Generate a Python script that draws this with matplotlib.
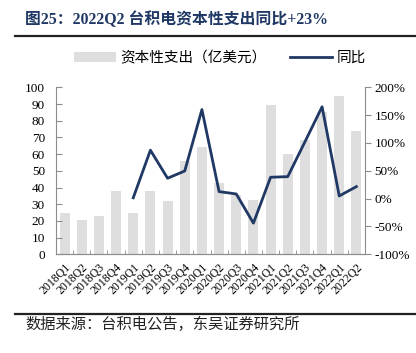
import matplotlib
matplotlib.use("Agg")
import matplotlib.pyplot as plt
import numpy as np
from matplotlib.lines import Line2D
from matplotlib.patches import Patch

quarters = ["2018Q1", "2018Q2", "2018Q3", "2018Q4", "2019Q1", "2019Q2", "2019Q3", "2019Q4",
            "2020Q1", "2020Q2", "2020Q3", "2020Q4", "2021Q1", "2021Q2", "2021Q3", "2021Q4",
            "2022Q1", "2022Q2"]
capex = [24.7, 20.4, 23.2, 37.9, 25.0, 38.0, 31.7, 56.1,
         64.5, 42.7, 35.3, 32.3, 89.2, 60.3, 68.2, 85.0, 94.6, 74.0]
yoy_quarters = quarters[4:]
yoy = [1.5, 87, 36.6, 49.7, 160, 12.6, 8.4, -44, 38.4, 39.5, 102, 165, 4.8, 21.6]

serif = ["Liberation Serif", "Noto Sans CJK SC"]
cjk = ["Noto Sans CJK SC", "Liberation Serif"]
navy = "#1f3864"
bar_color = "#dedede"
spine_color = "#8c8c8c"

fig = plt.figure(figsize=(4.16, 3.53), dpi=100)
ax = fig.add_axes([56/416, 1-254.3/353, (365-56)/416, (254.3-87.3)/353])
ax2 = ax.twinx()

x = np.arange(len(quarters))
ax.bar(x, capex, width=0.58, color=bar_color, zorder=1)
xi = [quarters.index(q) for q in yoy_quarters]
ax2.plot(xi, yoy, color=navy, lw=2.0, zorder=3)

ax.set_zorder(1)
ax2.set_zorder(2)
ax2.patch.set_visible(False)

ax.set_xlim(-0.5, len(quarters) - 0.5)
ax.set_ylim(0, 100)
ax.set_yticks(range(0, 101, 10))
ax2.set_ylim(-100, 200)
ax2.set_yticks(range(-100, 201, 50))
ax2.set_yticklabels([f"{v}%" for v in range(-100, 201, 50)])

for a in (ax, ax2):
    for s in a.spines.values():
        s.set_color(spine_color)
        s.set_linewidth(0.8)
    a.spines["top"].set_visible(False)
ax.spines["right"].set_visible(False)
ax2.spines["left"].set_visible(False)

ax.tick_params(axis="y", direction="in", length=4, color=spine_color, pad=8)
ax2.tick_params(axis="y", direction="out", length=4, color=spine_color, pad=3)
for lab in ax.get_yticklabels() + ax2.get_yticklabels():
    lab.set_family(serif)
    lab.set_fontsize(9.5)
    lab.set_color("#000000")

ax.set_xticks(x)
ax.set_xticklabels(quarters, rotation=45, ha="right", rotation_mode="anchor",
                   family=serif, fontsize=8.5)
ax.set_xticks(np.arange(-0.5, len(quarters), 1), minor=True)
ax.tick_params(axis="x", which="major", length=0, pad=5)
ax.tick_params(axis="x", which="minor", direction="in", length=3, color=spine_color)

# Title and rules
fig.text(25/416, 1-20/353, "图25：2022Q2 台积电资本性支出同比+23%", family=serif,
         fontsize=11.4, fontweight="bold", color=navy, va="center", ha="left")
fig.add_artist(Line2D([15/416, 1], [1-36/353, 1-36/353], color="#222222", lw=1.6))
fig.add_artist(Line2D([15/416, 1], [1-314/353, 1-314/353], color="#222222", lw=1.6))
fig.text(25/416, 1-324/353, "数据来源：台积电公告，东吴证券研究所", family=cjk,
         fontsize=11, color="#222222", va="center", ha="left")

handles = [Patch(facecolor=bar_color, edgecolor="none"),
           Line2D([0], [0], color=navy, lw=2.0)]
leg = fig.legend(handles, ["资本性支出（亿美元）", "同比"], loc="center",
                 bbox_to_anchor=(220/416, 1-58/353), ncol=2, frameon=False,
                 prop={"family": cjk, "size": 10.5}, handlelength=2.9, handletextpad=0.3,
                 columnspacing=1.6)

fig.savefig("out.png", dpi=100)
